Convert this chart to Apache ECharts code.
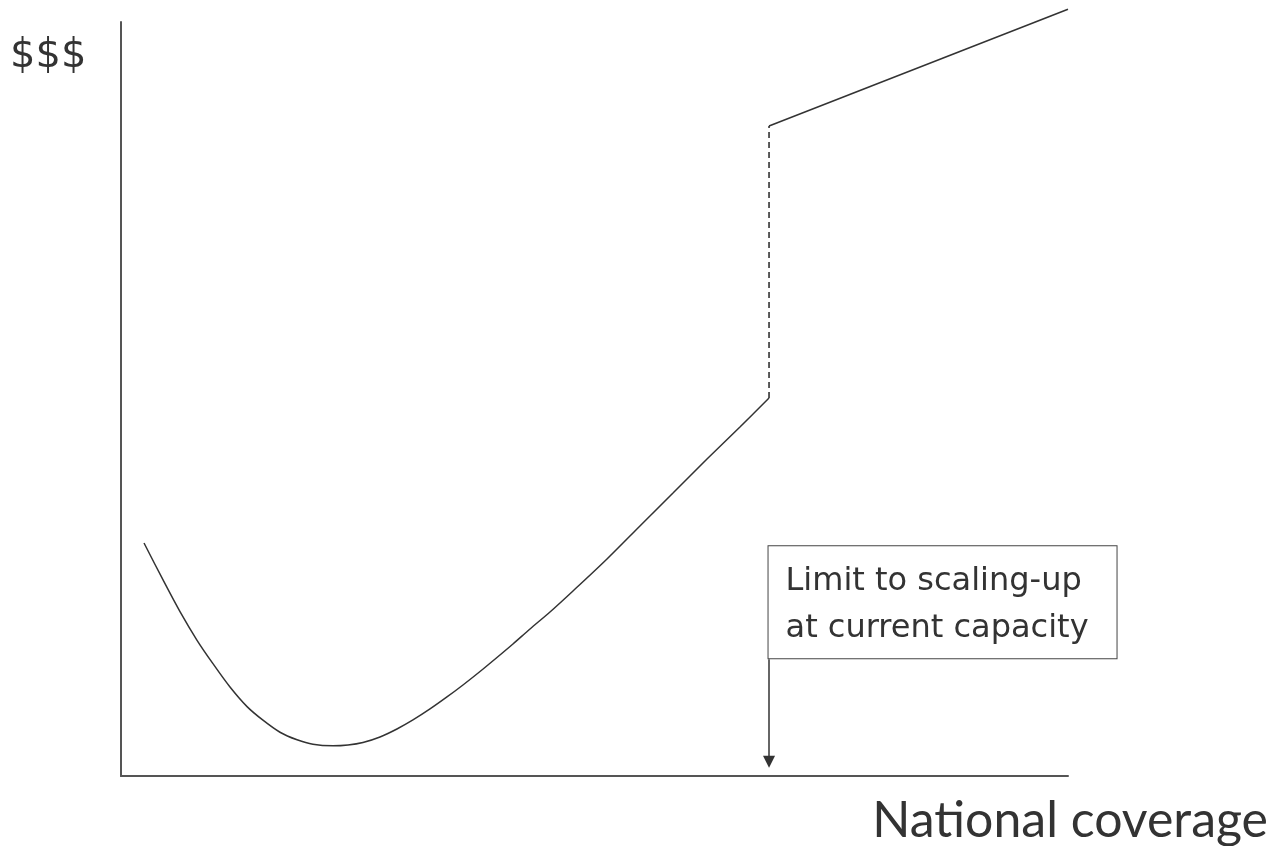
<!DOCTYPE html>
<html>
<head>
<meta charset="utf-8">
<script src="https://cdn.jsdelivr.net/npm/echarts@6/dist/echarts.min.js"></script>
<style>
  html, body { margin: 0; padding: 0; background: #fff; }
  #chart { width: 1276px; height: 846px; }
</style>
</head>
<body>
<div id="chart"></div>
<script>
// Cost curve (x = coverage %, y = cost, arbitrary units)
const curveX = [2.43, 4.44, 6.23, 8.03, 9.71, 11.51, 13.31, 14.99, 16.79, 18.59, 20.27, 22.39,
  23.97, 25.55, 27.35, 29.14, 30.83, 32.63, 34.42, 36.11, 37.91, 39.70, 41.39, 43.19, 45.30,
  47.73, 51.32, 54.80, 58.29, 61.88, 65.36, 68.43];
const curveY = [30.9, 26.0, 21.8, 18.0, 14.9, 11.8, 9.2, 7.4, 5.8, 4.8, 4.2, 4.0,
  4.11, 4.44, 5.17, 6.23, 7.43, 8.89, 10.48, 12.07, 13.86, 15.72, 17.51, 19.50, 21.75,
  24.54, 28.78, 33.16, 37.53, 42.04, 46.29, 50.13];
// Jump at capacity limit
const jumpX = [68.43, 68.43];
const jumpY = [50.13, 86.2];
// Cost beyond the limit
const upperX = [68.43, 100];
const upperY = [86.2, 101.7];
// Annotation arrow & box (box anchored at its top-left corner)
const arrowX = [68.43, 68.43];
const arrowY = [15.5, 1.9];
const boxAnchor = [68.43, 30.4];
const boxText = 'Limit to scaling-up\nat current capacity';
const xTitle = 'National coverage';
const yTitle = '$$$';

const zip = (xs, ys) => xs.map((x, i) => [x, ys[i]]);
const lineColor = '#333';

const chart = echarts.init(document.getElementById('chart'));
chart.setOption({
  animation: false,
  backgroundColor: '#fff',
  title: [
    { text: yTitle, left: 10, top: 37, padding: 0, textStyle: { fontFamily: 'DejaVu Sans', fontSize: 40, fontWeight: 'normal', color: '#333' } },
    { text: xTitle, right: 8, top: 796, padding: 0, textStyle: { fontFamily: 'Lato', fontSize: 50, fontWeight: 'normal', color: '#333' } }
  ],
  grid: { left: 121, right: 208, top: 22, bottom: 70, containLabel: false },
  xAxis: {
    type: 'value', min: 0, max: 100,
    axisLine: { show: true, onZero: false, lineStyle: { color: '#555', width: 2 } },
    axisTick: { show: false }, axisLabel: { show: false }, splitLine: { show: false }
  },
  yAxis: {
    type: 'value', min: 0, max: 100,
    axisLine: { show: true, onZero: false, lineStyle: { color: '#555', width: 2 } },
    axisTick: { show: false }, axisLabel: { show: false }, splitLine: { show: false }
  },
  series: [
    {
      type: 'line', data: zip(curveX, curveY), smooth: 0.3, symbol: 'none',
      lineStyle: { color: lineColor, width: 1.5 }, clip: false
    },
    {
      type: 'line', data: zip(jumpX, jumpY), symbol: 'none',
      lineStyle: { color: lineColor, width: 1.6, type: [6, 4] }, clip: false
    },
    {
      type: 'line', data: zip(upperX, upperY), symbol: 'none',
      lineStyle: { color: lineColor, width: 1.5 }, clip: false
    },
    {
      type: 'lines', coordinateSystem: 'cartesian2d', clip: false,
      symbol: ['none', 'triangle'], symbolSize: [10, 12],
      lineStyle: { color: lineColor, width: 1.5, opacity: 1 },
      data: [{ coords: zip(arrowX, arrowY) }]
    },
    {
      type: 'scatter', clip: false, silent: true,
      symbolSize: 1, itemStyle: { color: 'rgba(0,0,0,0)', opacity: 1 },
      data: [boxAnchor],
      label: {
        show: true, position: [0, 0], align: 'left', verticalAlign: 'top',
        formatter: boxText, opacity: 1,
        fontFamily: 'DejaVu Sans', fontSize: 32, lineHeight: 47, color: '#333',
        width: 331, height: 94, overflow: 'none',
        padding: [12, 0, 6, 17],
        borderColor: '#444', borderWidth: 1, backgroundColor: '#fff'
      }
    }
  ]
});
</script>
</body>
</html>
